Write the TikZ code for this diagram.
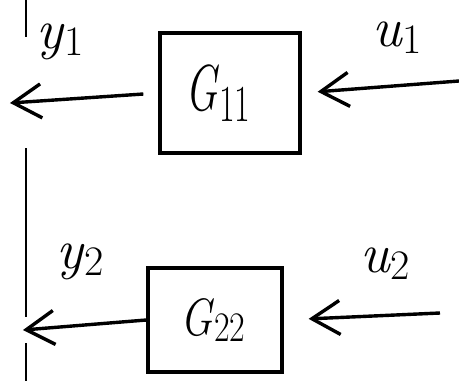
\documentclass[tikz,border=0pt]{standalone}
\usepackage{graphicx}
\usetikzlibrary{arrows.meta}
\newcommand{\hwsub}[4]{\textit{#1}\raisebox{-#3}{\fontsize{#4}{#4}\selectfont #2}}
\tikzset{
  blk/.style={draw, line width=3.4pt, minimum width=#1, inner sep=0pt},
  sig/.style={line width=3.4pt, -{Straight Barb[length=28pt,width=34pt,line width=3.4pt]}},
  lbl/.style={font=\fontsize{56}{60}\selectfont, inner sep=0pt},
  gtxt/.style={font=\fontsize{50}{54}\selectfont}
}
\begin{document}
\begin{tikzpicture}[x=1pt,y=-1pt]
\useasboundingbox (0,0) rectangle (459,381);
% vertical line on the left
\draw[line width=1.8pt] (26,0) -- (26,37);
\draw[line width=1.8pt] (26,148) -- (26,317);
\draw[line width=1.8pt] (26,343) -- (26,381);
% blocks
\node[blk=140pt, minimum height=120pt, gtxt] (G11) at (230,93) {\scalebox{0.85}[1.3]{\hwsub{G}{11}{9pt}{40}}\hspace*{24pt}};
\node[blk=134pt, minimum height=104pt, gtxt] (G22) at (215,320) {\scalebox{0.85}[1.05]{\hwsub{G}{22}{6pt}{40}}\hspace*{4pt}};
% end points
\coordinate (y1) at (10,103);
\coordinate (u1) at (459,81);
\coordinate (y2) at (23,330);
\coordinate (u2) at (440,313);
% connectors
\draw[sig, shorten <=15pt] (G11.west) -- (y1);
\draw[sig, shorten >=16pt] (u1) -- (G11.east);
\draw[sig] (G22.west) -- (y2);
\draw[sig, shorten >=25pt] (u2) -- (G22.east);
% labels
\node[lbl] (ly1) at (60,42) {\hwsub{y}{1}{7pt}{42}};
\node[lbl] (lu1) at (397,38) {\hwsub{u}{1}{7pt}{42}};
\node[lbl] (ly2) at (80,262) {\hwsub{y}{2}{7pt}{42}};
\node[lbl] (lu2) at (385,264) {\hwsub{u}{2}{7pt}{42}};
\end{tikzpicture}
\end{document}
